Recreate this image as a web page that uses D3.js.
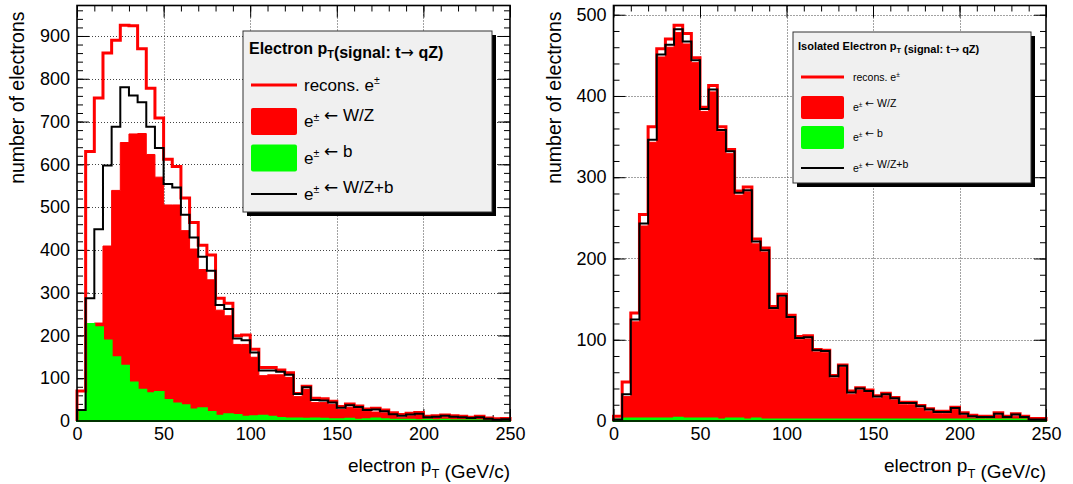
<!DOCTYPE html>
<html>
<head>
<meta charset="utf-8">
<script src="https://cdn.jsdelivr.net/npm/d3@7"></script>
<style>
  body { margin: 0; background: #fff; }
  svg { display: block; }
  text { font-family: "Liberation Sans", Arial, Helvetica, sans-serif; fill: #000; }
</style>
</head>
<body>
<svg id="chart" width="1073" height="484"></svg>
<script>
// Electron pT histograms, 5 GeV/c bins from 0 to 250 GeV/c
const binLowEdges = [0, 5, 10, 15, 20, 25, 30, 35, 40, 45, 50, 55, 60, 65, 70, 75, 80, 85, 90, 95,
  100, 105, 110, 115, 120, 125, 130, 135, 140, 145, 150, 155, 160, 165, 170, 175, 180, 185, 190, 195,
  200, 205, 210, 215, 220, 225, 230, 235, 240, 245];
const binWidth = 5;

const xTickLabels = [0, 50, 100, 150, 200, 250];
const yTickLabelsAll = [0, 100, 200, 300, 400, 500, 600, 700, 800, 900];
const yTickLabelsIso = [0, 100, 200, 300, 400, 500];

// All reconstructed electrons
const recoAll = [70, 630, 755, 860, 890, 925, 924, 870, 778, 708, 612, 595, 521, 464, 411, 388, 287, 275, 199, 201,
  168, 125, 125, 119, 113, 64, 81, 53, 52, 46, 34, 40, 35, 28, 30, 26, 19, 15, 18, 20,
  11, 12, 14, 12, 11, 9, 11, 7, 5, 6];
const fromWZAll = [3, 60, 229, 409, 539, 651, 671, 672, 623, 570, 505, 505, 445, 402, 354, 330, 259, 246, 179, 179,
  149, 106, 108, 108, 102, 57, 74, 43, 43, 39, 27, 32, 30, 22, 21, 19, 13, 9, 12, 15,
  6, 8, 9, 8, 7, 5, 7, 4, 2, 3];
const fromBAll = [23, 227, 219, 188, 149, 129, 90, 73, 65, 68, 49, 41, 37, 27, 30, 21, 12, 16, 14, 10,
  11, 12, 10, 7, 6, 6, 5, 6, 5, 4, 4, 5, 3, 4, 6, 4, 3, 3, 3, 2,
  3, 2, 3, 2, 2, 2, 2, 1, 1, 1];
const fromWZBAll = [26, 287, 448, 597, 688, 780, 761, 745, 688, 638, 554, 546, 482, 429, 384, 351, 271, 262, 193, 189,
  160, 118, 118, 115, 108, 63, 79, 49, 48, 43, 31, 37, 33, 26, 27, 23, 16, 12, 15, 17,
  9, 10, 12, 10, 9, 7, 9, 5, 3, 4];

// Isolated electrons
const recoIso = [6, 48, 133, 254, 362, 458, 470, 487, 477, 447, 386, 413, 362, 334, 283, 288, 224, 213, 141, 156,
  130, 104, 105, 88, 87, 56, 69, 37, 41, 38, 31, 34, 29, 23, 23, 19, 15, 12, 12, 17,
  10, 7, 6, 6, 10, 6, 9, 6, 3, 3];
const fromWZIso = [0, 30, 122, 240, 343, 448, 460, 478, 464, 441, 381, 405, 356, 329, 278, 282, 218, 208, 137, 152,
  126, 100, 101, 85, 84, 53, 66, 33, 38, 35, 28, 31, 26, 20, 20, 16, 12, 9, 9, 14,
  7, 4, 3, 3, 7, 3, 6, 3, 0, 0];
const fromBIso = [2, 3, 3, 3, 3, 3, 3, 4, 3, 3, 3, 3, 2, 3, 3, 2, 3, 2, 2, 2,
  2, 2, 2, 2, 2, 2, 2, 2, 2, 2, 2, 2, 2, 2, 2, 2, 2, 2, 2, 2,
  2, 2, 2, 2, 2, 2, 2, 2, 2, 2];
const fromWZBIso = [2, 33, 125, 243, 346, 451, 463, 482, 467, 444, 384, 408, 358, 332, 281, 284, 221, 210, 139, 154,
  128, 102, 103, 87, 86, 55, 68, 35, 40, 37, 30, 33, 28, 22, 22, 18, 14, 11, 11, 16,
  9, 6, 5, 5, 9, 5, 8, 5, 2, 2];

const RED = "#ff0000", GREEN = "#00ff00", BLACK = "#000000";

const svg = d3.select("#chart");

// Rich text helper: parts are plain, superscript, subscript or arrow runs
function richText(textSel, parts, fs) {
  parts.forEach(p => {
    if (p.sup) {
      textSel.append("tspan").attr("dy", -0.38 * fs).attr("font-size", 0.62 * fs).text(p.t);
      textSel.append("tspan").attr("dy", 0.38 * fs).text("");
    } else if (p.sub) {
      textSel.append("tspan").attr("dy", 0.3 * fs).attr("font-size", 0.68 * fs).text(p.t);
      textSel.append("tspan").attr("dy", -0.3 * fs).text("");
    } else if (p.arrow) {
      textSel.append("tspan").attr("font-family", "DejaVu Sans, sans-serif").attr("font-weight", "normal").text(p.t);
    } else {
      textSel.append("tspan").text(p.t);
    }
  });
}

function stepPoints(values) {
  const pts = [[binLowEdges[0], 0]];
  values.forEach((v, i) => {
    pts.push([binLowEdges[i], v]);
    pts.push([binLowEdges[i] + binWidth, v]);
  });
  pts.push([binLowEdges[binLowEdges.length - 1] + binWidth, 0]);
  return pts;
}

function drawPanel(cfg) {
  const f = cfg.frame;
  const ymax = 1.05 * d3.max(cfg.reco);
  const x = d3.scaleLinear().domain([0, 250]).range([f.x0, f.x1]);
  const y = d3.scaleLinear().domain([0, ymax]).range([f.y1, f.y0]);
  const g = svg.append("g");

  // dotted grid at the labelled ticks
  const grid = g.append("g").attr("stroke", "#444").attr("stroke-width", 1).attr("stroke-dasharray", "1,2");
  grid.selectAll("line.gx").data(xTickLabels.filter(v => v > 0 && v < 250)).join("line")
    .attr("x1", d => Math.round(x(d)) + 0.5).attr("x2", d => Math.round(x(d)) + 0.5)
    .attr("y1", f.y0).attr("y2", f.y1);
  grid.selectAll("line.gy").data(cfg.yTicks.filter(v => v > 0)).join("line")
    .attr("x1", f.x0).attr("x2", f.x1)
    .attr("y1", d => Math.round(y(d)) + 0.5).attr("y2", d => Math.round(y(d)) + 0.5);

  // tick marks on all four sides, pointing inwards
  const xMinor = d3.range(0, 250.001, 10);
  const yMinor = d3.range(0, ymax, 20);
  const axes = [
    [d3.axisBottom(x).tickValues(xTickLabels).tickSize(-12).tickPadding(6).tickFormat(d3.format("d")), `translate(0,${f.y1})`, true],
    [d3.axisBottom(x).tickValues(xMinor).tickSize(-6).tickFormat(""), `translate(0,${f.y1})`, false],
    [d3.axisTop(x).tickValues(xTickLabels).tickSize(-12).tickFormat(""), `translate(0,${f.y0})`, false],
    [d3.axisTop(x).tickValues(xMinor).tickSize(-6).tickFormat(""), `translate(0,${f.y0})`, false],
    [d3.axisLeft(y).tickValues(cfg.yTicks).tickSize(-12).tickPadding(7).tickFormat(d3.format("d")), `translate(${f.x0},0)`, true],
    [d3.axisLeft(y).tickValues(yMinor).tickSize(-6).tickFormat(""), `translate(${f.x0},0)`, false],
    [d3.axisRight(y).tickValues(cfg.yTicks).tickSize(-12).tickFormat(""), `translate(${f.x1},0)`, false],
    [d3.axisRight(y).tickValues(yMinor).tickSize(-6).tickFormat(""), `translate(${f.x1},0)`, false]
  ];
  axes.forEach(([ax, tr, labelled]) => {
    const a = g.append("g").attr("transform", tr).call(ax);
    a.select(".domain").remove();
    a.selectAll("line").attr("stroke", "#000").attr("stroke-width", 1);
    if (labelled) a.selectAll("text").attr("font-size", 18).attr("font-family", "Liberation Sans, Arial, sans-serif").attr("fill", "#000");
  });

  const line = d3.line().x(d => x(d[0])).y(d => y(d[1]));

  // filled components, then outlines
  g.append("path").attr("d", line(stepPoints(cfg.wz)) + "Z").attr("fill", RED).attr("stroke", RED).attr("stroke-width", 1);
  g.append("path").attr("d", line(stepPoints(cfg.b)) + "Z").attr("fill", GREEN).attr("stroke", GREEN).attr("stroke-width", 2);
  g.append("path").attr("d", line(stepPoints(cfg.reco))).attr("fill", "none").attr("stroke", RED).attr("stroke-width", 3);
  g.append("path").attr("d", line(stepPoints(cfg.wzb))).attr("fill", "none").attr("stroke", BLACK).attr("stroke-width", 2);

  // frame
  g.append("rect").attr("x", f.x0).attr("y", f.y0).attr("width", f.x1 - f.x0).attr("height", f.y1 - f.y0)
    .attr("fill", "none").attr("stroke", "#000").attr("stroke-width", 1.6);

  // axis titles
  g.append("text").attr("transform", `translate(${cfg.yTitleX},${f.y0 + 6}) rotate(-90)`)
    .attr("text-anchor", "end").attr("font-size", 19.5).text("number of electrons");
  const xt = g.append("text").attr("x", f.x1).attr("y", 472).attr("text-anchor", "end").attr("font-size", 19);
  richText(xt, [{ t: "electron p" }, { t: "T", sub: true }, { t: " (GeV/c)" }], 19);

  // legend
  const L = cfg.legend;
  const lg = g.append("g");
  lg.append("rect").attr("x", L.x + 4).attr("y", L.y + 4).attr("width", L.w).attr("height", L.h).attr("fill", "#000");
  lg.append("rect").attr("x", L.x).attr("y", L.y).attr("width", L.w).attr("height", L.h)
    .attr("fill", "#f0f0f0").attr("stroke", "#333").attr("stroke-width", 1);
  const title = lg.append("text").attr("x", L.titleX).attr("y", L.titleY).attr("dy", "0.35em")
    .attr("font-size", L.titleSize).attr("font-weight", "bold");
  richText(title, L.title, L.titleSize);

  const entries = [
    { kind: "line", color: RED, width: 3, parts: [{ t: "recons. e" }, { t: "±", sup: true }] },
    { kind: "box", color: RED, parts: [{ t: "e" }, { t: "±", sup: true }, { t: " " }, { t: "←", arrow: true }, { t: " W/Z" }] },
    { kind: "box", color: GREEN, parts: [{ t: "e" }, { t: "±", sup: true }, { t: " " }, { t: "←", arrow: true }, { t: " b" }] },
    { kind: "line", color: BLACK, width: 2, parts: [{ t: "e" }, { t: "±", sup: true }, { t: " " }, { t: "←", arrow: true }, { t: " W/Z+b" }] }
  ];
  entries.forEach((e, i) => {
    const cy = L.rows[i];
    if (e.kind === "line") {
      lg.append("line").attr("x1", L.sx0).attr("x2", L.sx1).attr("y1", cy).attr("y2", cy)
        .attr("stroke", e.color).attr("stroke-width", e.width);
    } else {
      lg.append("rect").attr("x", L.sx0).attr("y", cy - L.boxH / 2).attr("width", L.sx1 - L.sx0).attr("height", L.boxH)
        .attr("rx", 2).attr("fill", e.color);
    }
    const t = lg.append("text").attr("x", L.textX).attr("y", cy).attr("dy", "0.35em").attr("font-size", L.textSize);
    richText(t, e.parts, L.textSize);
  });
}

drawPanel({
  frame: { x0: 77, x1: 510, y0: 5.5, y1: 421 },
  reco: recoAll, wz: fromWZAll, b: fromBAll, wzb: fromWZBAll,
  yTicks: yTickLabelsAll,
  yTitleX: 24,
  legend: {
    x: 243, y: 31, w: 249, h: 181,
    title: [{ t: "Electron p" }, { t: "T", sub: true }, { t: "(signal: t" }, { t: "→", arrow: true }, { t: " qZ)" }],
    titleX: 249, titleY: 48, titleSize: 16,
    sx0: 251, sx1: 297, boxH: 27, textX: 304, textSize: 17,
    rows: [85, 121.5, 158, 194]
  }
});

drawPanel({
  frame: { x0: 613.5, x1: 1046, y0: 5.5, y1: 421 },
  reco: recoIso, wz: fromWZIso, b: fromBIso, wzb: fromWZBIso,
  yTicks: yTickLabelsIso,
  yTitleX: 560.5,
  legend: {
    x: 793, y: 32, w: 238, h: 151,
    title: [{ t: "Isolated Electron p" }, { t: "T", sub: true }, { t: " (signal: t" }, { t: "→", arrow: true }, { t: " qZ)" }],
    titleX: 798, titleY: 46, titleSize: 11,
    sx0: 801, sx1: 844, boxH: 23, textX: 853, textSize: 10.5,
    rows: [77, 107.5, 137.5, 168]
  }
});
</script>
</body>
</html>
